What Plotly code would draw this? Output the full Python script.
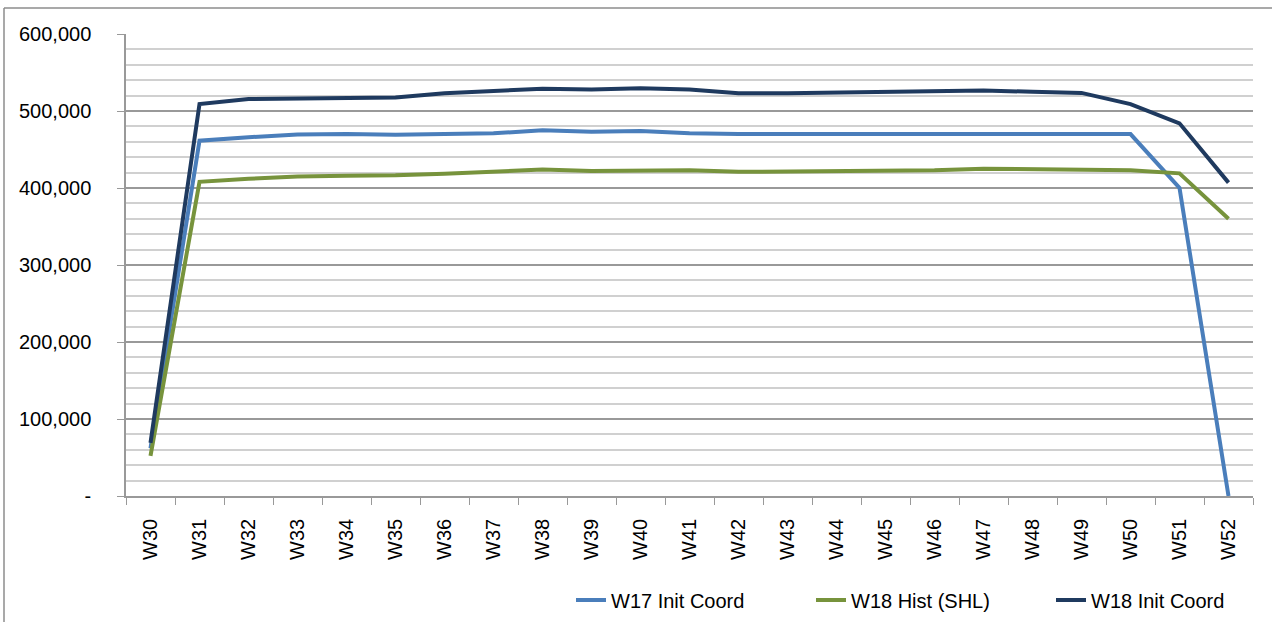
import plotly.graph_objects as go

weeks = ["W30", "W31", "W32", "W33", "W34", "W35", "W36", "W37", "W38", "W39", "W40",
         "W41", "W42", "W43", "W44", "W45", "W46", "W47", "W48", "W49", "W50", "W51", "W52"]

w17_init_coord = [62000, 461500, 466000, 469500, 470000, 469000, 470000, 471000, 475000, 473000,
                  474000, 471000, 470000, 470000, 470000, 470000, 470000, 470000, 470000, 470000,
                  470000, 400000, 0]
w18_hist_shl = [52000, 408000, 412000, 415000, 416000, 416500, 418500, 421000, 424000, 422000,
                422500, 423000, 421000, 421500, 421500, 422000, 423000, 425000, 424000, 423500,
                423000, 419000, 360000]
w18_init_coord = [69000, 509000, 515500, 516000, 517000, 517500, 523000, 526000, 529000, 528000,
                  529500, 528000, 523000, 523000, 524000, 525000, 526000, 526500, 525000, 523500,
                  509000, 484000, 407000]

y_ticks = [0, 100000, 200000, 300000, 400000, 500000, 600000]
y_tick_text = ["-", "100,000", "200,000", "300,000", "400,000", "500,000", "600,000"]

series = [
    ("W17 Init Coord", w17_init_coord, "#4a7ebb"),
    ("W18 Hist (SHL)", w18_hist_shl, "#77933c"),
    ("W18 Init Coord", w18_init_coord, "#1f3a5f"),
]

fig = go.Figure()
for name, vals, color in series:
    fig.add_trace(go.Scatter(
        x=weeks, y=vals, mode="lines", name=name,
        line=dict(color=color, width=4)
    ))

# plot area in pixels: x 126..1253, y 34..496
W, H = 1272, 622
L, R, T, B = 126, 19, 34, 126
pw, ph = W - L - R, H - T - B

def px_x(p):
    return (p - L) / pw

def px_y(p):
    return (H - B - p) / ph

# chart border (only top and left edges are inside the picture)
fig.add_shape(type="line", xref="paper", yref="paper",
              x0=px_x(4), x1=px_x(1280), y0=px_y(8), y1=px_y(8),
              line=dict(color="#8c8c8c", width=1.5))
fig.add_shape(type="line", xref="paper", yref="paper",
              x0=px_x(4), x1=px_x(4), y0=px_y(8), y1=px_y(630),
              line=dict(color="#8c8c8c", width=1.5))

fig.update_layout(
    width=W, height=H,
    margin=dict(l=L, r=R, t=T, b=B, autoexpand=False),
    paper_bgcolor="white",
    plot_bgcolor="white",
    font=dict(family="Liberation Sans, Arial, sans-serif", size=20, color="#000000"),
    showlegend=True,
    legend=dict(
        orientation="h",
        xanchor="left", x=px_x(571),
        yanchor="middle", y=px_y(600),
        entrywidth=195, entrywidthmode="pixels",
        font=dict(size=20),
        bgcolor="rgba(0,0,0,0)",
    ),
)

fig.update_xaxes(
    type="category",
    range=[-0.5, len(weeks) - 0.5],
    tickangle=-90,
    tickson="boundaries",
    ticks="outside", ticklen=7, tickcolor="#999999",
    showline=True, linecolor="#999999", linewidth=1.5,
    showgrid=False,
    automargin=False,
    ticklabelstandoff=13,
    tickfont=dict(size=20),
)

fig.update_yaxes(
    range=[0, 600000],
    tickvals=y_ticks, ticktext=y_tick_text,
    ticks="outside", ticklen=7, tickcolor="#999999",
    showline=True, linecolor="#999999", linewidth=1.5,
    showgrid=True, gridcolor="#999999", gridwidth=1.5,
    minor=dict(dtick=20000, showgrid=True, gridcolor="#d0d0d0", gridwidth=1.5),
    zeroline=False,
    automargin=False,
    ticklabelstandoff=22,
    tickfont=dict(size=20),
)

# drop the page's default body margin so the figure sits at the window's corner
fig.write_html("out.html", config={"displayModeBar": False},
               post_script="document.body.style.margin='0';")
